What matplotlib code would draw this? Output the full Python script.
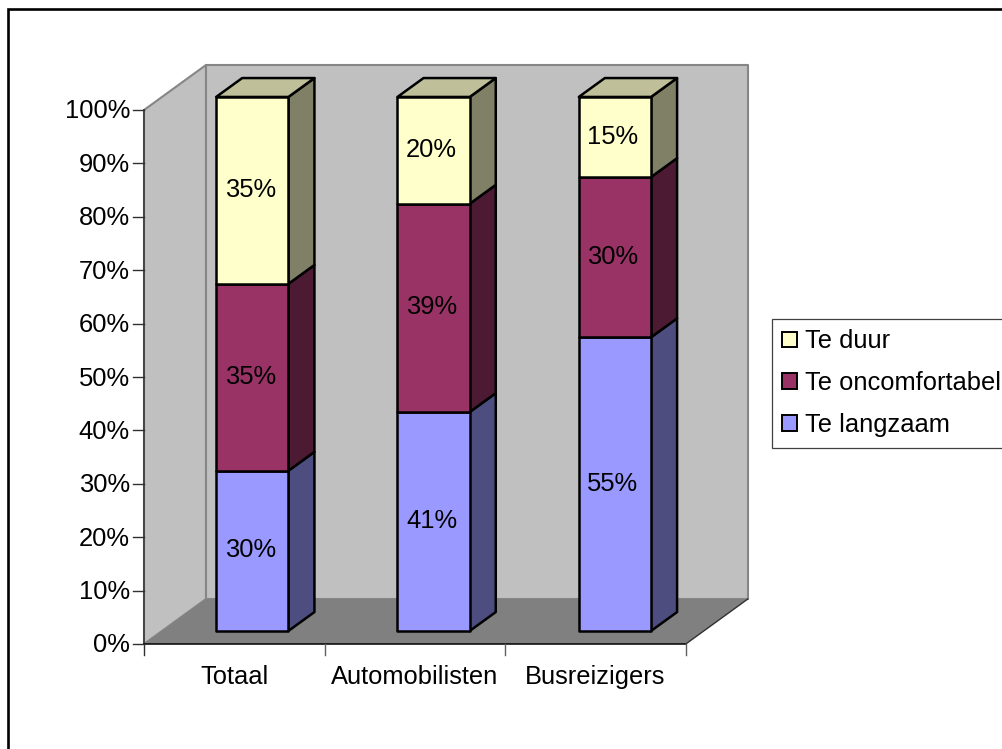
"""Stacked 3D-look column chart, drawn on a pixel canvas with an oblique projection."""

import numpy as np
import matplotlib
matplotlib.use("Agg")
import matplotlib.pyplot as plt
from matplotlib.patches import Polygon, Rectangle, Patch

categories = ["Totaal", "Automobilisten", "Busreizigers"]
te_langzaam = [30, 41, 55]
te_oncomfortabel = [35, 39, 30]
te_duur = [35, 20, 15]
series_names = ["Te langzaam", "Te oncomfortabel", "Te duur"]
y_ticks = [0, 10, 20, 30, 40, 50, 60, 70, 80, 90, 100]

# front, side, top colour per series
face_colors = ["#9999FF", "#993366", "#FFFFCC"]
side_colors = ["#4D4D80", "#4D1A33", "#808066"]
top_colors = ["#4D4D80", "#4D1A33", "#BFBF99"]

# projection of the plot box to image pixels
X0, Y0 = 144.0, 644.0
BAND = 180.6
HEIGHT = 534.0
DX, DY = 62.0, -45.0
BAR_W = 0.4
BAR_STEP = 1.004  # columns sit a touch wider apart than the ticks
D0, D1 = 0.29, 0.71


def project(cat, pct, depth):
    """cat in bands, pct in percent, depth 0 (front) to 1 (back) -> pixels."""
    return (X0 + cat * BAND + depth * DX, Y0 - pct / 100 * HEIGHT + depth * DY)


def face(ax, corners, color, lw=1.8, edge="black", z=2):
    pts = [project(*c) for c in corners]
    ax.add_patch(Polygon(pts, closed=True, facecolor=color, edgecolor=edge,
                         linewidth=lw, joinstyle="round", zorder=z))


plt.rcParams["font.family"] = ["Liberation Sans", "DejaVu Sans"]
FS = 18.4

fig = plt.figure(figsize=(10.03, 7.49), dpi=100)
ax = fig.add_axes([0, 0, 1, 1])
ax.set_xlim(0, 1003)
ax.set_ylim(749, 0)
ax.axis("off")

# outer chart frame, runs off the right and bottom of the image
ax.add_patch(Rectangle((8.5, 9), 1100, 800, facecolor="white", edgecolor="black",
                       linewidth=1.9, zorder=0))

# walls and floor
n = len(categories)
wall_edge = "#868686"
face(ax, [(0, 0, 0), (0, 100, 0), (0, 100, 1), (0, 0, 1)], "#C0C0C0", 1.5, wall_edge, 1)
face(ax, [(0, 0, 1), (0, 100, 1), (n, 100, 1), (n, 0, 1)], "#C0C0C0", 1.5, wall_edge, 1)
face(ax, [(0, 0, 0), (n, 0, 0), (n, 0, 1), (0, 0, 1)], "#808080", 0.0, "#808080", 1.1)

# axis lines, ticks and tick labels
x1, y1 = project(0, 0, 0)
x2, y2 = project(n, 0, 0)
ax.plot([x1, x1], [y1, project(0, 100, 0)[1]], color="#404040", lw=1.3, zorder=1.5)
ax.plot([x1, x2], [y1, y2], color="black", lw=1.1, zorder=1.5)
ax.plot([x2, project(n, 0, 1)[0]], [y2, project(n, 0, 1)[1]], color="#303030", lw=1.0, zorder=1.5)

for t in y_ticks:
    tx, ty = project(0, t, 0)
    ax.plot([tx - 11, tx], [ty, ty], color="#303030", lw=1.0, zorder=1.5)
    ax.text(tx - 14, ty - 1, f"{t}%", ha="right", va="center_baseline", fontsize=FS)

for i in range(n + 1):
    tx, ty = project(i, 0, 0)
    ax.plot([tx, tx], [ty, ty + 11], color="#606060" if i else "#303030", lw=1.0, zorder=1.5)

for i, cat in enumerate(categories):
    tx, ty = project(i + 0.5, 0, 0)
    ax.text(tx, ty + 40, cat, ha="center", va="baseline", fontsize=FS)

# stacked columns
stack = np.array([te_langzaam, te_oncomfortabel, te_duur], dtype=float)
tops = np.cumsum(stack, axis=0)
bottoms = tops - stack

for i in range(n):
    mid = 0.5 + i * BAR_STEP
    left = mid - BAR_W / 2
    right = mid + BAR_W / 2
    for s in range(len(series_names)):
        b, t = bottoms[s, i], tops[s, i]
        face(ax, [(right, b, D0), (right, b, D1), (right, t, D1), (right, t, D0)], side_colors[s])
        if s == len(series_names) - 1:
            face(ax, [(left, t, D0), (right, t, D0), (right, t, D1), (left, t, D1)], top_colors[s])
        face(ax, [(left, b, D0), (right, b, D0), (right, t, D0), (left, t, D0)], face_colors[s])
        lx, ly = project(mid, (b + t) / 2, D0)
        ax.text(lx - 2, ly - 3, f"{stack[s, i]:.0f}%", ha="center", va="center_baseline",
                fontsize=FS, zorder=5)

# legend, top entry first; its box is cut by the image edge
handles = [Patch(facecolor=face_colors[s], edgecolor="black", linewidth=1.4,
                 label=series_names[s]) for s in (2, 1, 0)]
leg = ax.legend(handles=handles, loc="upper left", bbox_to_anchor=(772, 319),
                bbox_transform=ax.transData, fontsize=FS, frameon=True, fancybox=False,
                framealpha=1, edgecolor="#404040", borderpad=0.41, labelspacing=0.7,
                handlelength=0.58, handleheight=0.58, handletextpad=0.31, borderaxespad=0)
leg.get_frame().set_linewidth(0.9)
leg.set_zorder(6)

fig.savefig("out.png", dpi=100)
